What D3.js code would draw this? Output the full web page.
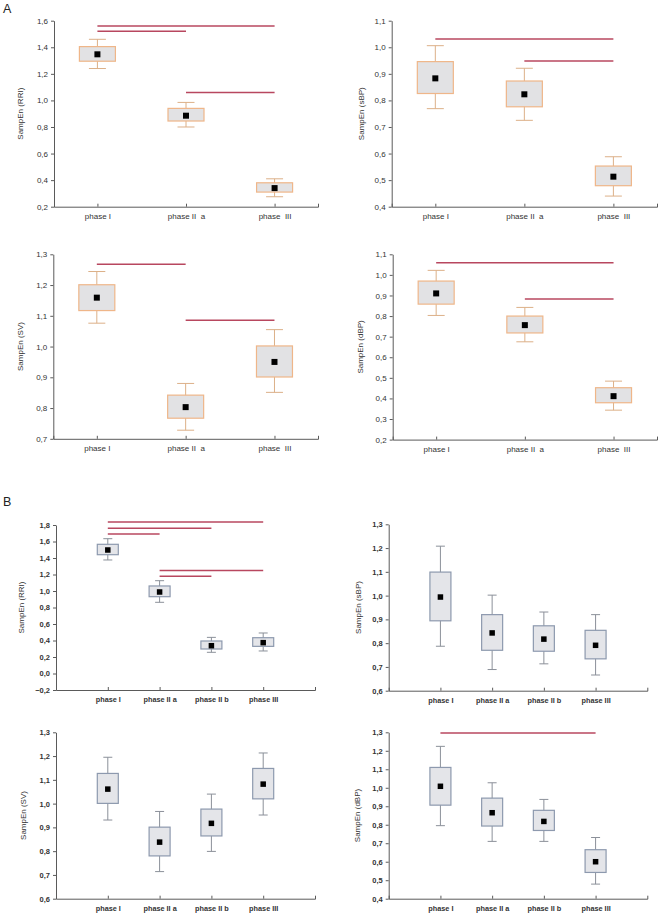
<!DOCTYPE html>
<html>
<head>
<meta charset="utf-8">
<script src="https://cdn.jsdelivr.net/npm/d3@7"></script>
<style>
  html, body { margin: 0; padding: 0; background: #fff; }
  svg { display: block; font-family: "Liberation Sans", Arial, sans-serif; }
  text { white-space: pre; }
</style>
</head>
<body>
<svg id="chart" width="660" height="915"></svg>
<script>
// ---------- DATA ----------
// each entry: [whisker low, box low, mean, box high, whisker high]
const phasesA = ["phase I", "phase II  a", "phase  III"];
const phasesB = ["phase I", "phase II a", "phase II b", "phase III"];

const rriA = [[1.24, 1.295, 1.347, 1.405, 1.46], [0.80, 0.845, 0.885, 0.94, 0.985], [0.275, 0.31, 0.34, 0.38, 0.41]];
const sbpA = [[0.769, 0.826, 0.883, 0.946, 1.006], [0.725, 0.776, 0.823, 0.873, 0.921], [0.44, 0.479, 0.513, 0.553, 0.588]];
const svA  = [[1.076, 1.117, 1.159, 1.201, 1.244], [0.728, 0.767, 0.803, 0.842, 0.880], [0.851, 0.901, 0.950, 1.002, 1.055]];
const dbpA = [[0.803, 0.858, 0.910, 0.970, 1.022], [0.675, 0.718, 0.756, 0.800, 0.842], [0.343, 0.379, 0.411, 0.452, 0.484]];

const rriB = [[1.376, 1.44, 1.497, 1.566, 1.634], [0.863, 0.931, 0.988, 1.061, 1.125], [0.257, 0.297, 0.337, 0.394, 0.438], [0.273, 0.329, 0.374, 0.434, 0.491]];
const sbpB = [[0.787, 0.894, 0.994, 1.099, 1.208], [0.689, 0.770, 0.843, 0.920, 1.002], [0.713, 0.766, 0.817, 0.873, 0.931], [0.666, 0.734, 0.791, 0.854, 0.920]];
const svB  = [[0.931, 1.001, 1.061, 1.127, 1.195], [0.714, 0.780, 0.838, 0.901, 0.967], [0.799, 0.864, 0.917, 0.977, 1.040], [0.952, 1.020, 1.082, 1.148, 1.213]];
const dbpB = [[0.795, 0.906, 1.008, 1.110, 1.224], [0.710, 0.793, 0.865, 0.944, 1.027], [0.710, 0.769, 0.818, 0.878, 0.937], [0.479, 0.542, 0.600, 0.665, 0.731]];

// significance bars: [from phase index, to phase index, level]
const sigRriA = [[0, 2, 1.56], [0, 1, 1.52], [1, 2, 1.06]];
const sigSbpA = [[0, 2, 1.031], [1, 2, 0.948]];
const sigSvA  = [[0, 1, 1.2675], [1, 2, 1.0855]];
const sigDbpA = [[0, 2, 1.0595], [1, 2, 0.883]];
const sigRriB = [[0, 3, 1.836], [0, 2, 1.76], [0, 1, 1.69], [1, 3, 1.25], [1, 2, 1.178]];
const sigSbpB = [];
const sigSvB  = [];
const sigDbpB = [[0, 3, 1.296]];

// y tick values per panel
const ticksRriA = [0.2, 0.4, 0.6, 0.8, 1.0, 1.2, 1.4, 1.6];
const ticksSbpA = [0.4, 0.5, 0.6, 0.7, 0.8, 0.9, 1.0, 1.1];
const ticksSvA  = [0.7, 0.8, 0.9, 1.0, 1.1, 1.2, 1.3];
const ticksDbpA = [0.2, 0.3, 0.4, 0.5, 0.6, 0.7, 0.8, 0.9, 1.0, 1.1];
const ticksRriB = [-0.2, 0.0, 0.2, 0.4, 0.6, 0.8, 1.0, 1.2, 1.4, 1.6, 1.8];
const ticksSbpB = [0.6, 0.7, 0.8, 0.9, 1.0, 1.1, 1.2, 1.3];
const ticksSvB  = [0.6, 0.7, 0.8, 0.9, 1.0, 1.1, 1.2, 1.3];
const ticksDbpB = [0.4, 0.5, 0.6, 0.7, 0.8, 0.9, 1.0, 1.1, 1.2, 1.3];

// ---------- LAYOUT / STYLE ----------
const styleA = { boxFill: "#e2e2e4", boxStroke: "#efb689", whisker: "#dcb088", boxW: 36, capW: 17, meanS: 6,
                 pad: 0.49, catFont: "8px", catWeight: "normal", tickFont: "8px", tickWeight: "normal" };
const styleB = { boxFill: "#e4e5e9", boxStroke: "#8d99ae", whisker: "#8b9099", boxW: 21, capW: 9, meanS: 5.5,
                 pad: 1, catFont: "7.3px", catWeight: "bold", tickFont: "7.5px", tickWeight: "bold" };

const panels = [
  { cats: phasesA, data: rriA, sig: sigRriA, ticks: ticksRriA, title: "SampEn (RRI)", st: styleA,
    left: 54, right: 318, top: 20.7, bottom: 206.7, titleX: 20 },
  { cats: phasesA, data: sbpA, sig: sigSbpA, ticks: ticksSbpA, title: "SampEn (sBP)", st: styleA,
    left: 391.7, right: 657, top: 20.7, bottom: 206.7, titleX: 361.5 },
  { cats: phasesA, data: svA, sig: sigSvA, ticks: ticksSvA, title: "SampEn (SV)", st: styleA,
    left: 53.3, right: 318, top: 254.3, bottom: 438.8, titleX: 20 },
  { cats: phasesA, data: dbpA, sig: sigDbpA, ticks: ticksDbpA, title: "SampEn (dBP)", st: styleA,
    left: 392.7, right: 657, top: 254.3, bottom: 439.6, titleX: 360 },
  { cats: phasesB, data: rriB, sig: sigRriB, ticks: ticksRriB, title: "SampEn (RRI)", st: styleB,
    left: 56, right: 315, top: 525, bottom: 690, titleX: 21.5 },
  { cats: phasesB, data: sbpB, sig: sigSbpB, ticks: ticksSbpB, title: "SampEn (sBP)", st: styleB,
    left: 388.7, right: 647.3, top: 524.3, bottom: 690.7, titleX: 358.3 },
  { cats: phasesB, data: svB, sig: sigSvB, ticks: ticksSvB, title: "SampEn (SV)", st: styleB,
    left: 56, right: 315, top: 732.3, bottom: 898.7, titleX: 23 },
  { cats: phasesB, data: dbpB, sig: sigDbpB, ticks: ticksDbpB, title: "SampEn (dBP)", st: styleB,
    left: 388.7, right: 647.3, top: 732.3, bottom: 898.7, titleX: 356.7 }
];

const svg = d3.select("#chart");
const fmt = v => d3.format(".1f")(v).replace("-", "-").replace(".", ",");
const axisColor = "#5a5a5a";
const sigColor = "#b8475f";

svg.append("text").attr("x", 3).attr("y", 13).attr("font-size", "12.5px").attr("fill", "#222").text("A");
svg.append("text").attr("x", 3).attr("y", 506).attr("font-size", "12.5px").attr("fill", "#222").text("B");

panels.forEach(p => {
  const st = p.st;
  const y = d3.scaleLinear()
    .domain([p.ticks[0], p.ticks[p.ticks.length - 1]])
    .range([p.bottom, p.top]);
  const x = d3.scalePoint().domain(p.cats).range([p.left, p.right]).padding(st.pad);
  const g = svg.append("g");

  // y axis
  const ya = g.append("g").attr("transform", `translate(${p.left},0)`)
    .call(d3.axisLeft(y).tickValues(p.ticks).tickFormat(fmt).tickSize(3).tickSizeOuter(0).tickPadding(3));
  ya.select(".domain").attr("stroke", axisColor);
  ya.selectAll(".tick line").attr("stroke", axisColor);
  ya.selectAll(".tick text").attr("fill", "#333").attr("font-size", st.tickFont)
    .attr("font-weight", st.tickWeight).attr("font-family", "Liberation Sans, Arial, sans-serif");

  // x axis
  const xa = g.append("g").attr("transform", `translate(0,${p.bottom})`)
    .call(d3.axisBottom(x).tickSizeInner(-3).tickSizeOuter(-3).tickPadding(7));
  xa.select(".domain").attr("stroke", axisColor);
  xa.selectAll(".tick line").attr("stroke", axisColor);
  xa.selectAll(".tick text").attr("fill", "#333").attr("font-size", st.catFont)
    .attr("font-weight", st.catWeight).attr("font-family", "Liberation Sans, Arial, sans-serif");

  // y title
  g.append("text")
    .attr("transform", `translate(${p.titleX},${(p.top + p.bottom) / 2}) rotate(-90)`)
    .attr("text-anchor", "middle").attr("dy", "0.35em")
    .attr("font-size", "8px").attr("fill", "#333").text(p.title);

  // significance bars
  g.selectAll(".sig").data(p.sig).join("line")
    .attr("x1", d => x(p.cats[d[0]])).attr("x2", d => x(p.cats[d[1]]))
    .attr("y1", d => y(d[2])).attr("y2", d => y(d[2]))
    .attr("stroke", sigColor).attr("stroke-width", 1.5);

  // boxes
  const bx = g.selectAll(".bx").data(p.data).join("g")
    .attr("transform", (d, i) => `translate(${x(p.cats[i])},0)`);
  bx.append("line").attr("x1", 0).attr("x2", 0)
    .attr("y1", d => y(d[0])).attr("y2", d => y(d[4]))
    .attr("stroke", st.whisker).attr("stroke-width", 1);
  bx.append("line").attr("x1", -st.capW / 2).attr("x2", st.capW / 2)
    .attr("y1", d => y(d[0])).attr("y2", d => y(d[0]))
    .attr("stroke", st.whisker).attr("stroke-width", 1);
  bx.append("line").attr("x1", -st.capW / 2).attr("x2", st.capW / 2)
    .attr("y1", d => y(d[4])).attr("y2", d => y(d[4]))
    .attr("stroke", st.whisker).attr("stroke-width", 1);
  bx.append("rect")
    .attr("x", -st.boxW / 2).attr("width", st.boxW)
    .attr("y", d => y(d[3])).attr("height", d => y(d[1]) - y(d[3]))
    .attr("fill", st.boxFill).attr("stroke", st.boxStroke).attr("stroke-width", 1.2);
  bx.append("rect")
    .attr("x", -st.meanS / 2).attr("width", st.meanS)
    .attr("y", d => y(d[2]) - st.meanS / 2).attr("height", st.meanS)
    .attr("fill", "#000");
});
</script>
</body>
</html>
